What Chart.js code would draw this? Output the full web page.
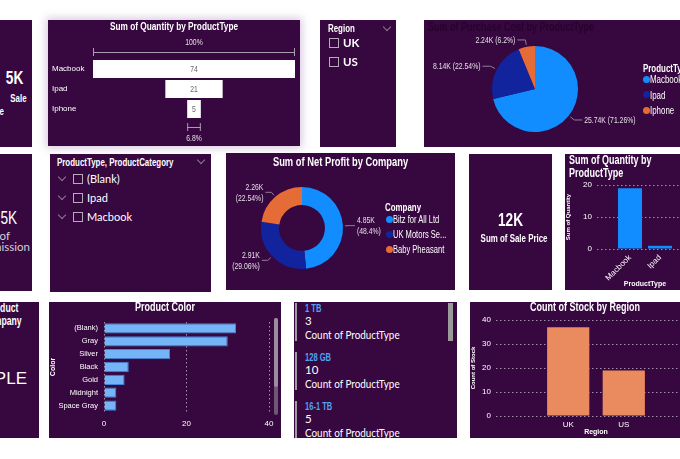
<!DOCTYPE html>
<html><head><meta charset="utf-8">
<script src="https://cdn.jsdelivr.net/npm/chart.js@4.4.1/dist/chart.umd.min.js"></script>
<style>
:root{--nar:"Liberation Sans",Arial,sans-serif;--seg:Lato,"Open Sans",sans-serif;}
html,body{margin:0;padding:0;width:680px;height:459px;overflow:hidden;background:#fff;position:relative}
.p{position:absolute;background:#37073f;overflow:hidden}
.t{position:absolute;white-space:nowrap;color:#fff;font-family:var(--nar);line-height:12px}
.b{font-weight:bold}
.c{left:0;right:0;text-align:center}
.nl{transform:scaleX(.72);transform-origin:left center}
.nr{transform:scaleX(.72);transform-origin:right center}
.nc{transform:scaleX(.72);transform-origin:center center}
.sl{transform:scaleX(.86);transform-origin:left center}
canvas{position:absolute;left:0;top:0}
.chk{position:absolute;width:10px;height:10px;border:1px solid #b7aab9;box-sizing:border-box}
.chev{position:absolute;width:5px;height:5px;border-right:1px solid #8d7c90;border-bottom:1px solid #8d7c90;transform:rotate(45deg)}
.dot{position:absolute;width:7px;height:7px;border-radius:50%}
</style></head><body>

<div class="p" id="p1" style="left:-60px;top:20px;width:92px;height:127px">
  <div class="t b nr" style="right:9px;top:48px;font-size:19px;line-height:20px">5K</div>
  <div class="t b nr" style="right:5px;top:72px;font-size:11px">Sale</div>
  <div class="t b nr" style="right:28px;top:85px;font-size:11px">Price</div>
</div>

<div class="p" id="p2" style="left:48px;top:20px;width:252px;height:126px;box-shadow:0 0 8px 2px rgba(150,100,170,0.35)">
  <canvas id="funnel" width="252" height="126"></canvas>
  <div class="t b c nc" style="top:0px;font-size:11.5px">Sum of Quantity by ProductType</div>
</div>

<div class="p" id="p3" style="left:320px;top:20px;width:76px;height:127px">
  <div class="t b nl" style="left:8px;top:2px;font-size:11px">Region</div>
  <div class="chev" style="left:64px;top:4px"></div>
</div>

<div class="p" id="p4" style="left:424px;top:20px;width:270px;height:127px">
  <canvas id="pie" width="222" height="127"></canvas>
  <div class="t b nl" style="left:4px;top:1px;font-size:12.5px;color:#26042c">Sum of Purchase Cost by ProductType</div>
</div>

<div class="p" id="p5" style="left:-60px;top:154px;width:92px;height:137px">
  <div class="t nr" style="right:15px;top:54px;font-size:19px;line-height:20px">5K</div>
  <div class="t" style="right:22px;top:76px;font-size:11.5px;color:#d6d0d8;font-family:var(--seg)">Sum of</div>
  <div class="t" style="right:2px;top:87px;font-size:11.5px;color:#d6d0d8;font-family:var(--seg)">Commission</div>
</div>

<div class="p" id="p6" style="left:50px;top:154px;width:161px;height:138px">
  <div class="t b nl" style="left:7px;top:2px;font-size:11px">ProductType, ProductCategory</div>
  <div class="chev" style="left:148px;top:3px"></div>
</div>

<div class="p" id="p7" style="left:226px;top:153px;width:229px;height:137px">
  <canvas id="donut" width="155" height="137"></canvas>
  <div class="t b c nc" style="top:2px;font-size:13px;line-height:14px">Sum of Net Profit by Company</div>
</div>

<div class="p" id="p8" style="left:469px;top:154px;width:83px;height:136px">
  <div class="t b c nc" style="top:57px;font-size:19px;line-height:18px">12K</div>
  <div class="t b c nc" style="top:78px;font-size:11px">Sum of Sale Price</div>
</div>

<div class="p" id="p9" style="left:565px;top:154px;width:140px;height:136px">
  <canvas id="qty" width="140" height="136"></canvas>
  <div class="t b nl" style="left:4px;top:0px;font-size:12.5px;line-height:13px">Sum of Quantity by<br>ProductType</div>
</div>

<div class="p" id="p10" style="left:-50px;top:302px;width:89px;height:136px">
  <div class="t b nr" style="right:21px;top:-1px;font-size:12px;line-height:14px">Product</div>
  <div class="t b nr" style="right:17px;top:12px;font-size:12px;line-height:14px">Company</div>
  <div class="t" style="right:12px;top:66px;font-size:17px;line-height:22px">APPLE</div>
</div>

<div class="p" id="p11" style="left:49px;top:302px;width:232px;height:136px">
  <canvas id="colors" width="232" height="136"></canvas>
  <div class="t b c nc" style="top:-1px;font-size:12.5px">Product Color</div>
  <div style="position:absolute;left:225px;top:16px;width:4px;height:97px;background:#6e5773;border-radius:2px"></div>
  <div style="position:absolute;left:225px;top:16px;width:4px;height:69px;background:#9b8c9e;border-radius:2px"></div>
</div>

<div class="p" id="p12" style="left:294px;top:302px;width:163px;height:136px">
  <div style="position:absolute;left:154px;top:1px;width:5px;height:38px;background:#9a9a9a"></div>
</div>

<div class="p" id="p13" style="left:470px;top:302px;width:230px;height:136px">
  <canvas id="stock" width="230" height="136"></canvas>
  <div class="t b c nc" style="top:-1px;font-size:12.5px">Count of Stock by Region</div>
</div>

<script>
// ---------------- data ----------------
const funnelCategories = ['Macbook', 'Ipad', 'Iphone'];
const funnelQuantities = [74, 21, 5];

const regionSlicerItems = ['UK', 'US'];

const pieCategories = ['Macbook', 'Ipad', 'Iphone'];
const purchaseCost = [25740, 8140, 2240];

const hierarchyItems = ['(Blank)', 'Ipad', 'Macbook'];

const companies = ['Bitz for All Ltd', 'UK Motors Se...', 'Baby Pheasant'];
const netProfit = [4849.7, 2911.8, 2258.5];

const qtyTypes = ['Macbook', 'Ipad'];
const qtyValues = [19, 1];
const qtyTicks = [0, 10, 20];

const colorNames = ['(Blank)', 'Gray', 'Silver', 'Black', 'Gold', 'Midnight', 'Space Gray'];
const colorCounts = [32, 30, 16, 6, 5, 3, 3];
const colorTicks = [0, 20, 40];

const storageLabels = ['1 TB', '128 GB', '16-1 TB'];
const storageCounts = [3, 10, 5];

const regions = ['UK', 'US'];
const stockCounts = [37, 19];
const stockTicks = [0, 10, 20, 30, 40];

// ---------------- styling ----------------
const NAR = '"Liberation Sans",Arial,sans-serif';
const PBI = ['#118DFF', '#12239E', '#E66C37'];
const GRID = 'rgba(200,188,205,0.75)';
const SQ = 0.72;
Chart.defaults.font.family = NAR;
Chart.defaults.color = '#ffffff';

const trim = (x, d) => String(parseFloat(x.toFixed(d)));
const fmtK = v => trim(v / 1000, 2) + 'K';
const fmtPct = p => trim(p * 100, 2) + '%';

function el(parent, cls, style, text) {
  const d = document.createElement('div');
  d.className = cls;
  Object.assign(d.style, style);
  if (text != null) d.textContent = text;
  parent.appendChild(d);
  return d;
}
function narrowText(ctx, text, x, y, align) {
  ctx.save();
  ctx.translate(x, y);
  ctx.scale(SQ, 1);
  ctx.textAlign = align;
  ctx.fillText(text, 0, 0);
  ctx.restore();
}

// ---------------- HTML slicers, legends, cards ----------------
const p3 = document.getElementById('p3');
regionSlicerItems.forEach((r, i) => {
  el(p3, 'chk', {left: '9px', top: (18 + i * 19) + 'px'});
  el(p3, 't b', {left: '23px', top: (16 + i * 19) + 'px', fontFamily: 'var(--seg)', fontSize: '11.5px', lineHeight: '14px'}, r);
});

const p6 = document.getElementById('p6');
hierarchyItems.forEach((h, i) => {
  const cy = 25 + i * 19;
  el(p6, 'chev', {left: '9px', top: (cy - 5) + 'px'});
  el(p6, 'chk', {left: '23px', top: (cy - 5) + 'px'});
  el(p6, 't', {left: '37px', top: (cy - 8) + 'px', fontFamily: 'var(--seg)', fontSize: '12px', lineHeight: '16px', transform: 'scaleX(.92)', transformOrigin: 'left center'}, h);
});

const p4 = document.getElementById('p4');
el(p4, 't b nl', {left: '219px', top: '42px', fontSize: '11px'}, 'ProductType');
pieCategories.forEach((c, i) => {
  const cy = 59 + i * 15.5;
  el(p4, 'dot', {left: '219px', top: (cy - 3.5) + 'px', background: PBI[i]});
  el(p4, 't nl', {left: '226px', top: (cy - 6) + 'px', fontSize: '11px'}, c);
});

const p7 = document.getElementById('p7');
el(p7, 't b nl', {left: '159px', top: '48px', fontSize: '11px'}, 'Company');
companies.forEach((c, i) => {
  const cy = 66 + i * 15;
  el(p7, 'dot', {left: '160px', top: (cy - 3.5) + 'px', background: PBI[i]});
  el(p7, 't nl', {left: '167px', top: (cy - 6) + 'px', fontSize: '10.5px'}, c);
});

const p12 = document.getElementById('p12');
storageLabels.forEach((s, i) => {
  const y0 = i * 49;
  el(p12, '', {position: 'absolute', left: '1px', top: (y0 + 1) + 'px', width: '2px', height: '38px', background: '#a29aa4'});
  el(p12, 't b nl', {left: '11px', top: (y0 + 0) + 'px', fontSize: '10.5px', color: '#4da3f2'}, s);
  el(p12, 't', {left: '11px', top: (y0 + 12) + 'px', fontSize: '11.5px', lineHeight: '14px', fontFamily: 'var(--seg)'}, String(storageCounts[i]));
  el(p12, 't sl', {left: '11px', top: (y0 + 26) + 'px', fontSize: '11.5px', lineHeight: '14px', fontFamily: 'var(--seg)'}, 'Count of ProductType');
});

// ---------------- plugins ----------------
const outsideLabels = {
  id: 'outsideLabels',
  afterDatasetsDraw(chart, args, opts) {
    const ctx = chart.ctx;
    const meta = chart.getDatasetMeta(0);
    const data = chart.data.datasets[0].data;
    const total = data.reduce((a, b) => a + b, 0);
    ctx.save();
    meta.data.forEach((arc, i) => {
      const p = arc.getProps(['x', 'y', 'startAngle', 'endAngle', 'outerRadius'], true);
      const a = (p.startAngle + p.endAngle) / 2;
      const cs = Math.cos(a), sn = Math.sin(a);
      const x1 = p.x + cs * (p.outerRadius + 2), y1 = p.y + sn * (p.outerRadius + 2);
      const x2 = p.x + cs * (p.outerRadius + opts.elbow), y2 = p.y + sn * (p.outerRadius + opts.elbow);
      const right = cs >= 0;
      const x3 = x2 + (right ? opts.tail : -opts.tail);
      ctx.strokeStyle = opts.lineColor;
      ctx.lineWidth = 1;
      ctx.beginPath(); ctx.moveTo(x1, y1); ctx.lineTo(x2, y2); ctx.lineTo(x3, y2); ctx.stroke();
      ctx.fillStyle = opts.color;
      ctx.font = opts.font;
      ctx.textBaseline = 'middle';
      const tx = x3 + (right ? 2 : -2);
      const align = right ? 'left' : 'right';
      const v = fmtK(data[i]), pc = '(' + fmtPct(data[i] / total) + ')';
      if (opts.twoLine) { narrowText(ctx, v, tx, y2 - 5, align); narrowText(ctx, pc, tx, y2 + 6, align); }
      else narrowText(ctx, v + ' ' + pc, tx, y2, align);
    });
    ctx.restore();
  }
};

const funnelDecor = {
  id: 'funnelDecor',
  afterDatasetsDraw(chart) {
    const ctx = chart.ctx;
    const bars = chart.getDatasetMeta(0).data;
    ctx.save();
    ctx.textBaseline = 'middle';
    ctx.font = '9.5px ' + NAR;
    bars.forEach((b, i) => {
      ctx.fillStyle = '#6b6670';
      narrowText(ctx, String(funnelQuantities[i]), (b.x + b.base) / 2, b.y + 0.5, 'center');
    });
    const bracket = (b, yy, ty, txt) => {
      const l = Math.min(b.x, b.base), r = Math.max(b.x, b.base);
      ctx.strokeStyle = '#a99fac';
      ctx.lineWidth = 1;
      ctx.beginPath();
      ctx.moveTo(l + 0.5, yy - 4); ctx.lineTo(l + 0.5, yy + 4);
      ctx.moveTo(r - 0.5, yy - 4); ctx.lineTo(r - 0.5, yy + 4);
      ctx.moveTo(l, yy + 0.5); ctx.lineTo(r, yy + 0.5);
      ctx.stroke();
      ctx.fillStyle = '#e6e0e8';
      narrowText(ctx, txt, (l + r) / 2, ty, 'center');
    };
    const first = bars[0], last = bars[bars.length - 1];
    const q0 = funnelQuantities[0], qn = funnelQuantities[funnelQuantities.length - 1];
    const topY = first.y - first.height / 2 - 8;
    bracket(first, topY, topY - 10, trim(100 * q0 / q0, 1) + '%');
    const botY = last.y + last.height / 2 + 9;
    bracket(last, botY, botY + 11, trim(100 * qn / q0, 1) + '%');
    ctx.restore();
  }
};

const noUI = {legend: {display: false}, tooltip: {enabled: false}};

// ---------------- funnel ----------------
const fMax = Math.max(...funnelQuantities);
new Chart(document.getElementById('funnel'), {
  type: 'bar',
  data: {labels: funnelCategories, datasets: [{
    data: funnelQuantities.map(v => [(fMax - v) / 2, (fMax + v) / 2]),
    backgroundColor: '#ffffff', barPercentage: 0.9, categoryPercentage: 1
  }]},
  options: {
    indexAxis: 'y', animation: false, responsive: false,
    layout: {padding: {left: 4, right: 5, top: 39, bottom: 27}},
    scales: {
      x: {display: false, min: 0, max: fMax},
      y: {grid: {display: false, drawTicks: false}, border: {display: false},
          ticks: {color: '#ffffff', font: {size: 8}, crossAlign: 'far', padding: 0},
          afterFit(s) { s.width = 41; }}
    },
    plugins: noUI
  },
  plugins: [funnelDecor]
});

// ---------------- pie ----------------
new Chart(document.getElementById('pie'), {
  type: 'pie',
  data: {labels: pieCategories, datasets: [{data: purchaseCost, backgroundColor: PBI, borderWidth: 0}]},
  options: {
    animation: false, responsive: false,
    layout: {padding: {left: 68, right: 68, top: 26, bottom: 15}},
    plugins: Object.assign({}, noUI, {outsideLabels: {twoLine: false, elbow: 7, tail: 8, font: '9.5px ' + NAR, color: '#e4dfe6', lineColor: '#8f8292'}})
  },
  plugins: [outsideLabels]
});

// ---------------- donut ----------------
new Chart(document.getElementById('donut'), {
  type: 'doughnut',
  data: {labels: companies, datasets: [{data: netProfit, backgroundColor: PBI, borderWidth: 0}]},
  options: {
    animation: false, responsive: false, cutout: '56%',
    layout: {padding: {left: 35, right: 38, top: 34, bottom: 21}},
    plugins: Object.assign({}, noUI, {outsideLabels: {twoLine: true, elbow: 6, tail: 6, font: '9.5px ' + NAR, color: '#e4dfe6', lineColor: '#8f8292'}})
  },
  plugins: [outsideLabels]
});

// ---------------- quantity by product type ----------------
new Chart(document.getElementById('qty'), {
  type: 'bar',
  data: {datasets: [{data: qtyValues.map((v, i) => ({x: i, y: v})), backgroundColor: '#118DFF', barPercentage: 0.8, categoryPercentage: 1}]},
  options: {
    animation: false, responsive: false,
    layout: {padding: {left: 0, right: 12, top: 31, bottom: 0}},
    scales: {
      x: {type: 'linear', offset: false, min: -1.1, max: 2.1,
          afterBuildTicks(s) { s.ticks = qtyTypes.map((_, i) => ({value: i})); },
          grid: {display: false, drawTicks: false, offset: false}, border: {display: false},
          ticks: {color: '#ffffff', font: {size: 8}, autoSkip: false, minRotation: 45, maxRotation: 45, padding: 4, callback: v => qtyTypes[v]},
          title: {display: true, text: 'ProductType', color: '#ffffff', font: {size: 7, weight: 'bold'}, padding: {top: 0, bottom: 2}},
          afterFit(s) { s.height = 41; }},
      y: {min: Math.min(...qtyTicks), max: Math.max(...qtyTicks),
          afterBuildTicks(s) { s.ticks = qtyTicks.map(v => ({value: v})); },
          grid: {color: GRID, drawTicks: false}, border: {display: false, dash: [1.5, 2.5]},
          ticks: {color: '#ffffff', font: {size: 8}, padding: 5},
          title: {display: true, text: 'Sum of Quantity', color: '#ffffff', font: {size: 6, weight: 'bold'}, padding: 0},
          afterFit(s) { s.width = 32; }}
    },
    plugins: noUI
  }
});

// ---------------- product color ----------------
new Chart(document.getElementById('colors'), {
  type: 'bar',
  data: {labels: colorNames, datasets: [{data: colorCounts, backgroundColor: '#74b5f8', borderColor: '#3f86d8', borderWidth: 1, barPercentage: 0.8, categoryPercentage: 1}]},
  options: {
    indexAxis: 'y', animation: false, responsive: false,
    layout: {padding: {left: 0, right: 12, top: 20, bottom: 0}},
    scales: {
      x: {min: Math.min(...colorTicks), max: Math.max(...colorTicks),
          afterBuildTicks(s) { s.ticks = colorTicks.map(v => ({value: v})); },
          grid: {color: GRID, drawTicks: false}, border: {display: false, dash: [1.5, 2.5]},
          ticks: {color: '#ffffff', font: {size: 8}, padding: 7},
          afterFit(s) { s.height = 26; }},
      y: {grid: {display: false, drawTicks: false}, border: {display: false},
          ticks: {color: '#ffffff', font: {size: 7.5}, autoSkip: false, padding: 6},
          title: {display: true, text: 'Color', color: '#ffffff', font: {size: 7, weight: 'bold'}, padding: 0},
          afterFit(s) { s.width = 55; }}
    },
    plugins: noUI
  }
});

// ---------------- count of stock by region ----------------
new Chart(document.getElementById('stock'), {
  type: 'bar',
  data: {datasets: [{data: stockCounts.map((v, i) => ({x: i, y: v})), backgroundColor: '#e98a5f', barPercentage: 0.76, categoryPercentage: 1}]},
  options: {
    animation: false, responsive: false,
    layout: {padding: {left: 0, right: 4, top: 18, bottom: 0}},
    scales: {
      x: {type: 'linear', offset: false, min: -1.3, max: 2.3,
          afterBuildTicks(s) { s.ticks = regions.map((_, i) => ({value: i})); },
          grid: {display: false, drawTicks: false, offset: false}, border: {display: false},
          ticks: {color: '#ffffff', font: {size: 8}, autoSkip: false, maxRotation: 0, padding: 4, callback: v => regions[v]},
          title: {display: true, text: 'Region', color: '#ffffff', font: {size: 7, weight: 'bold'}, padding: {top: 0, bottom: 2}},
          afterFit(s) { s.height = 22; }},
      y: {min: Math.min(...stockTicks), max: Math.max(...stockTicks),
          afterBuildTicks(s) { s.ticks = stockTicks.map(v => ({value: v})); },
          grid: {color: GRID, drawTicks: false}, border: {display: false, dash: [1.5, 2.5]},
          ticks: {color: '#ffffff', font: {size: 8}, padding: 5},
          title: {display: true, text: 'Count of Stock', color: '#ffffff', font: {size: 6, weight: 'bold'}, padding: 0},
          afterFit(s) { s.width = 26; }}
    },
    plugins: noUI
  }
});
</script>
</body></html>
